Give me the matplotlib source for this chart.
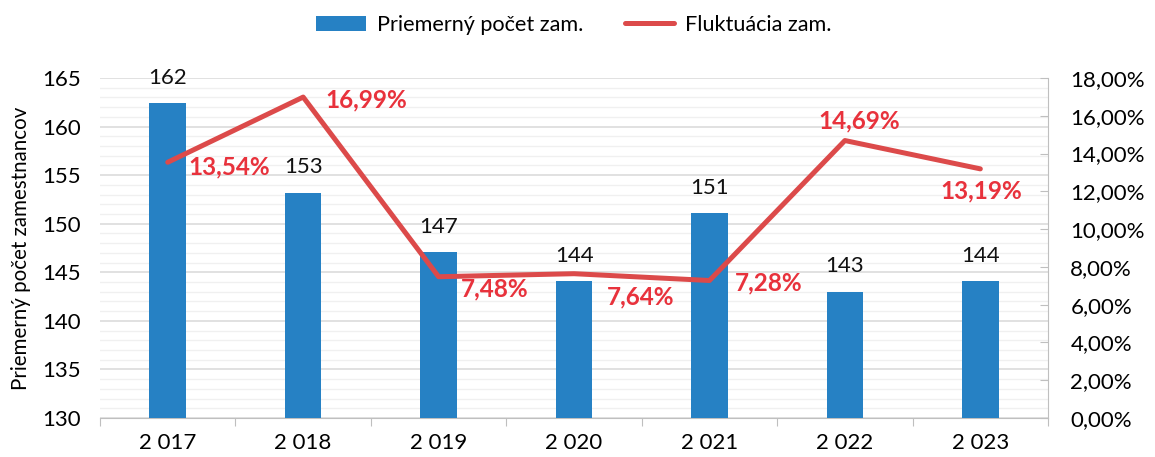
import numpy as np
import matplotlib.pyplot as plt
from matplotlib.ticker import FuncFormatter, MultipleLocator, FixedLocator

plt.rcParams['font.family'] = ['Lato', 'DejaVu Sans']

# data
years = ['2 017', '2 018', '2 019', '2 020', '2 021', '2 022', '2 023']
avg_staff = [162.4, 153.2, 147.1, 144.1, 151.1, 143.0, 144.1]
avg_labels = ['162', '153', '147', '144', '151', '143', '144']
turnover = [13.54, 16.99, 7.48, 7.64, 7.28, 14.69, 13.19]

# label offsets for the red labels (points)
lbl_off = [(15, -3), (16, -2), (16, -9), (24, -17), (18, -2), (-19, 14), (-29, -16)]

bar_col = '#2681c4'
line_col = '#dc4a4a'
red_txt = '#e8323c'

fig = plt.figure(figsize=(11.55, 4.57), dpi=100)
ax = fig.add_axes([0.0866, 0.0853, 0.8208, 0.744])
x = np.arange(len(years))

ax.bar(x, avg_staff, width=0.27, color=bar_col, zorder=3, label='Priemerný počet zam.')
ax.set_ylim(130, 165)
ax.set_xlim(-0.5, len(years) - 0.5)
ax.yaxis.set_major_locator(MultipleLocator(5))
ax.yaxis.set_minor_locator(MultipleLocator(1))
ax.grid(axis='y', which='major', color='#d9d9d9', lw=1.1, zorder=0)
ax.grid(axis='y', which='minor', color='#f0f0f0', lw=1.0, zorder=0)
ax.tick_params(axis='y', which='both', length=0, labelsize=16, pad=14)
ax.set_ylabel('Priemerný počet zamestnancov', fontsize=14.8, labelpad=8)

# x axis: ticks at boundaries, labels at centers
ax.xaxis.set_major_locator(FixedLocator(np.arange(-0.5, len(years), 1.0)))
ax.xaxis.set_major_formatter(FuncFormatter(lambda v, p: ''))
ax.xaxis.set_minor_locator(FixedLocator(x))
ax.set_xticklabels(years, minor=True)
ax.tick_params(axis='x', which='major', length=6, color='#bfbfbf')
ax.tick_params(axis='x', which='minor', length=0, labelsize=16, pad=11)

for s in ['top', 'left', 'right']:
    ax.spines[s].set_visible(False)
ax.spines['bottom'].set_color('#bfbfbf')

for xi, v, t in zip(x, avg_staff, avg_labels):
    ax.annotate(t, (xi, v), xytext=(0, 11), textcoords='offset points',
                ha='center', va='bottom', fontsize=16, color='#111111')

ax2 = ax.twinx()
ax2.plot(x, turnover, color=line_col, lw=3.6, solid_capstyle='round', zorder=4,
         label='Fluktuácia zam.')
ax2.set_ylim(0, 18)
ax2.yaxis.set_major_locator(MultipleLocator(2))
ax2.yaxis.set_major_formatter(FuncFormatter(lambda v, p: f'{v:.2f}'.replace('.', ',') + '%'))
ax2.tick_params(axis='y', direction='in', length=6, color='#bfbfbf', labelsize=16, pad=16)
for s in ['top', 'left', 'bottom']:
    ax2.spines[s].set_visible(False)
ax2.spines['right'].set_color('#bfbfbf')

for xi, v, off in zip(x, turnover, lbl_off):
    ax2.annotate(f'{v:.2f}'.replace('.', ',') + '%', (xi, v), xytext=off,
                 textcoords='offset points', ha='left', va='center',
                 fontsize=17.5, fontweight='bold', color=red_txt)

h1, l1 = ax.get_legend_handles_labels()
h2, l2 = ax2.get_legend_handles_labels()
fig.legend(h1 + h2, l1 + l2, loc='upper center', bbox_to_anchor=(0.497, 1.01), ncol=2,
           frameon=False, fontsize=15.6, handlelength=2.3, columnspacing=1.9,
           handletextpad=0.5)

fig.savefig('out.png', dpi=100)
